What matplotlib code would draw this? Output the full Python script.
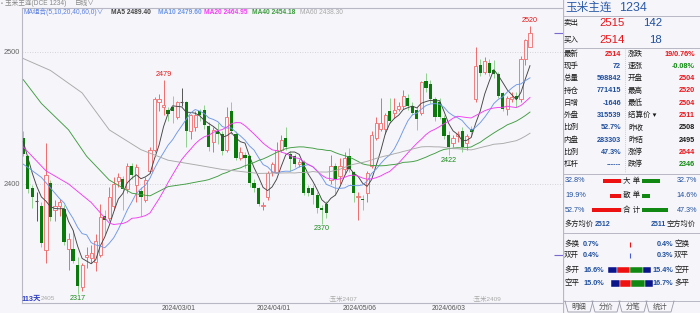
import numpy as np
import pandas as pd
import matplotlib
matplotlib.use("Agg")
import matplotlib.pyplot as plt

plt.rcParams['font.family'] = ['Liberation Sans', 'Noto Sans CJK SC', 'DejaVu Sans']

W, H = 700, 313

# 日K线 (113 根) 开/高/低/收
opens = [2435, 2421, 2397, 2387, 2383, 2350, 2401, 2380, 2383, 2381,
         2351, 2351, 2339, 2322, 2345, 2344, 2341, 2346, 2376, 2374,
         2383, 2402, 2404, 2396, 2414, 2399, 2395, 2388, 2410, 2426,
         2462, 2458, 2456, 2458, 2451, 2462, 2462, 2440, 2443, 2455,
         2456, 2444, 2432, 2440, 2438, 2426, 2455, 2438, 2420, 2422,
         2421, 2401, 2397, 2383, 2390, 2409, 2409, 2426, 2435, 2423,
         2421, 2415, 2417, 2397, 2397, 2392, 2382, 2385, 2403, 2414,
         2406, 2411, 2421, 2409, 2390, 2389, 2393, 2414, 2435, 2442,
         2442, 2455, 2454, 2457, 2459, 2465, 2459, 2456, 2454, 2478,
         2476, 2464, 2462, 2450, 2437, 2431, 2436, 2440, 2431, 2442,
         2464, 2490, 2485, 2492, 2486, 2483, 2469, 2457, 2464, 2467,
         2464, 2495, 2504]
highs = [2440, 2422, 2399, 2394, 2386, 2431, 2403, 2388, 2389, 2384,
         2363, 2365, 2345, 2340, 2352, 2354, 2362, 2385, 2380, 2398,
         2405, 2408, 2406, 2416, 2416, 2415, 2398, 2405, 2428, 2466,
         2468, 2479, 2458, 2467, 2463, 2473, 2463, 2453, 2455, 2457,
         2460, 2447, 2443, 2446, 2440, 2458, 2462, 2440, 2428, 2424,
         2422, 2404, 2398, 2386, 2410, 2417, 2432, 2437, 2443, 2425,
         2423, 2419, 2418, 2399, 2399, 2394, 2384, 2387, 2422, 2416,
         2420, 2424, 2427, 2410, 2394, 2392, 2410, 2440, 2451, 2465,
         2454, 2465, 2465, 2462, 2471, 2468, 2462, 2458, 2478, 2484,
         2479, 2466, 2465, 2452, 2440, 2437, 2440, 2443, 2438, 2444,
         2504, 2495, 2496, 2495, 2494, 2485, 2470, 2467, 2470, 2470,
         2497, 2510, 2520]
lows = [2421, 2393, 2382, 2372, 2352, 2340, 2372, 2372, 2376, 2354,
        2335, 2340, 2317, 2319, 2336, 2340, 2334, 2345, 2362, 2372,
        2380, 2398, 2380, 2393, 2404, 2386, 2376, 2386, 2408, 2424,
        2455, 2452, 2448, 2446, 2449, 2459, 2428, 2434, 2440, 2448,
        2442, 2425, 2424, 2430, 2422, 2424, 2438, 2418, 2418, 2412,
        2398, 2394, 2383, 2380, 2388, 2406, 2408, 2424, 2426, 2410,
        2413, 2413, 2392, 2391, 2385, 2378, 2370, 2374, 2400, 2392,
        2400, 2408, 2409, 2386, 2373, 2380, 2386, 2412, 2433, 2440,
        2438, 2446, 2450, 2455, 2457, 2456, 2452, 2441, 2452, 2470,
        2461, 2448, 2449, 2434, 2422, 2428, 2432, 2424, 2426, 2436,
        2462, 2482, 2483, 2482, 2480, 2465, 2455, 2452, 2462, 2458,
        2462, 2490, 2504]
closes = [2423, 2396, 2390, 2387, 2355, 2407, 2375, 2383, 2386, 2356,
          2358, 2342, 2323, 2339, 2346, 2348, 2357, 2375, 2373, 2390,
          2400, 2405, 2396, 2414, 2407, 2413, 2390, 2403, 2426, 2464,
          2464, 2460, 2453, 2455, 2462, 2462, 2440, 2452, 2452, 2452,
          2445, 2428, 2441, 2438, 2425, 2451, 2440, 2420, 2424, 2420,
          2401, 2397, 2385, 2384, 2408, 2415, 2426, 2433, 2428, 2419,
          2415, 2417, 2393, 2393, 2392, 2382, 2380, 2378, 2414, 2404,
          2414, 2420, 2411, 2393, 2391, 2388, 2408, 2437, 2446, 2446,
          2452, 2448, 2456, 2459, 2467, 2459, 2454, 2449, 2477, 2473,
          2464, 2451, 2451, 2436, 2428, 2435, 2438, 2428, 2436, 2439,
          2489, 2484, 2493, 2484, 2483, 2467, 2457, 2465, 2466, 2464,
          2495, 2509, 2514]

# 均线在窗口之前的部分 (图上读出)
ma5_head_idx = [0, 1, 2, 3]
ma5_head = [2432, 2420, 2408, 2398]
ma10_head_idx = [0, 4, 8]
ma10_head = [2415, 2405, 2389]
ma20_head_idx = [0, 5, 10, 15]
ma20_head = [2428, 2410, 2400, 2386]
ma40_head_idx = [0, 4, 10, 14, 19, 24, 28, 32, 36]
ma40_head = [2479, 2461, 2441, 2421, 2403, 2393, 2391, 2398, 2400]
ma60_head_idx = [0, 6, 13, 19, 26, 32, 39, 44, 52]
ma60_head = [2495, 2486, 2469, 2441, 2426, 2418, 2414, 2411, 2408]

ma_names = ['MA5', 'MA10', 'MA20', 'MA40', 'MA60']
ma_periods = [5, 10, 20, 40, 60]
ma_last = ['2489.40', '2479.60', '2464.95', '2454.18', '2438.30']

date_labels = ['2024/03/01', '2024/04/01', '2024/05/06', '2024/06/03']
date_pos = [34.3, 55.3, 74.3, 94.0]

peak_idx = [31, 112]
trough_idx = [12, 66, 94]

BG = '#f5f5fa'
UP = '#f06a6a'
DN = '#0a7a0a'
DN_WICK = '#8fd08f'
MA_COLORS = ['#444444', '#6e98e8', '#f33cf3', '#3f9c3f', '#a9a9a9']

fig = plt.figure(figsize=(W / 100, H / 100), dpi=100, facecolor=BG)


def fx(px):
    return px / W


def fy(py):
    return 1 - py / H


# ---- 主图 ----
ax = fig.add_axes([fx(22), fy(303), (563 - 22) / W, (303 - 8) / H])
ax.set_facecolor(BG)
ax.set_xlim(-0.29, 119.3)
ax.set_ylim(2309.85, 2533.3)

x = np.arange(len(closes))
o = np.array(opens, float)
c = np.array(closes, float)
h = np.array(highs, float)
l = np.array(lows, float)
up = c > o
dn = c < o
eq = c == o

# 阳线 空心
ax.vlines(x[up], c[up], h[up], color=UP, lw=0.7, zorder=2)
ax.vlines(x[up], l[up], o[up], color=UP, lw=0.7, zorder=2)
ax.bar(x[up], (c - o)[up], bottom=o[up], width=0.7, facecolor=BG,
       edgecolor=UP, lw=0.6, zorder=2)
# 阴线 实心
ax.vlines(x[dn], l[dn], h[dn], color=DN_WICK, lw=0.7, zorder=2)
ax.bar(x[dn], (c - o)[dn], bottom=o[dn], width=0.7, color=DN, lw=0, zorder=2)
# 十字星
ax.vlines(x[eq], l[eq], h[eq], color='#555555', lw=0.7, zorder=2)
ax.hlines(c[eq], x[eq] - 0.35, x[eq] + 0.35, color='#555555', lw=0.8, zorder=2)

# 均线
close_s = pd.Series(c)
heads = [(ma5_head_idx, ma5_head), (ma10_head_idx, ma10_head),
         (ma20_head_idx, ma20_head), (ma40_head_idx, ma40_head),
         (ma60_head_idx, ma60_head)]
for n, (hi, hv), col in zip(ma_periods, heads, MA_COLORS):
    m = close_s.rolling(n).mean()
    xs = list(hi) + list(range(n - 1, len(c)))
    ys = list(hv) + list(m.iloc[n - 1:])
    ax.plot(xs, ys, color=col, lw=0.65, zorder=3)

# 高低点标注
for i in peak_idx:
    ax.annotate(str(highs[i]), (i, highs[i]), xytext=(0, 3.8), textcoords='offset points',
                ha='center', va='center', fontsize=5.2, color='#e01818')
for i in trough_idx:
    ax.annotate(str(lows[i]), (i, lows[i]), xytext=(0, -3.8), textcoords='offset points',
                ha='center', va='center', fontsize=5.2, color='#1a8a1a')

# 网格 / 坐标
for v in (2400, 2500):
    ax.axhline(v, color='#c8c8d0', lw=0.6, ls=(0, (1, 2)), zorder=1)
ax.set_yticks([2400, 2500])
ax.set_yticklabels(['2400', '2500'], fontsize=5.3, color='#666666')
ax.set_xticks(date_pos)
ax.set_xticklabels(date_labels, fontsize=4.9, color='#555555')
ax.tick_params(length=0, pad=1.5)
for s in ('left', 'bottom', 'top'):
    ax.spines[s].set_color('#b8b8c4')
    ax.spines[s].set_linewidth(0.8)
ax.spines['right'].set_visible(False)

# 右侧价位标记
ax.hlines([2514, 2346], 117.3, 119.3, color='#7a6ad0', lw=0.8)

# 顶部标题与均线图例
fig.text(fx(1), fy(3), '▫', fontsize=4, color='#777777', va='center')
fig.text(fx(5), fy(3), '玉米主连(DCE 1234)', fontsize=4.8, color='#888888', va='center')
fig.text(fx(75), fy(3), '日线∨', fontsize=4.8, color='#888888', va='center')
fig.text(fx(24), fy(12), 'MA组合(5,10,20,40,60,0)∨', fontsize=4.8, color='#5a7fe0', va='center')
leg_x = [111, 158, 204, 252, 300]
for xx, name, val, col in zip(leg_x, ma_names, ma_last, MA_COLORS):
    fig.text(fx(xx), fy(12), f'{name} {val}', fontsize=4.8, color=col, va='center',
             fontweight='bold' if name != 'MA60' else 'normal')

# 底部合约切换标记
fig.text(fx(22), fy(299), '113天', fontsize=5.3, color='#2f3fc0', va='center', fontweight='bold')
fig.text(fx(41), fy(299), '2405', fontsize=4.6, color='#aaaaaa', va='center')
fig.text(fx(328), fy(299), ':玉米2407', fontsize=4.6, color='#aaaaaa', va='center')
fig.text(fx(472), fy(299), ':玉米2409', fontsize=4.6, color='#aaaaaa', va='center')

# ---- 右侧报价面板 ----
pax = fig.add_axes([fx(563), 0, 137 / W, 1])
pax.set_xlim(563, 700)
pax.set_ylim(313, 0)
pax.axis('off')

RED = '#e8141a'
BLUE = '#1f4e9c'
GREEN = '#138a13'
BLACK = '#1a1a1a'
LINE = '#b8b8c4'

pax.axvline(563.4, color=LINE, lw=0.9)
pax.text(565, 8, '玉米主连', fontsize=8.4, color='#2a5aa8', va='center')
pax.text(619, 8, '1234', fontsize=9, color='#2a5aa8', va='center')

for yy in (16, 48, 173.5, 232.5, 301):
    pax.hlines(yy, 563, 700, color=LINE, lw=0.7)

pax.text(563.5, 23.5, '卖出', fontsize=5.4, color=BLACK, va='center')
pax.text(599, 23.5, '2515', fontsize=8.2, color=RED, va='center')
pax.text(662, 23.5, '142', fontsize=8.2, color=BLUE, va='center', ha='right')
pax.text(563.5, 40, '买入', fontsize=5.4, color=BLACK, va='center')
pax.text(599, 40, '2514', fontsize=8.2, color=RED, va='center')
pax.text(662, 40, '18', fontsize=8.2, color=BLUE, va='center', ha='right')

left_labels = ['最新', '现手', '总量', '持仓', '日增', '外盘', '比例', '内盘', '比例', '杠杆']
left_values = ['2514', '72', '598842', '771415', '-1646', '315539', '52.7%', '283303', '47.3%', '------']
right_labels = ['涨跌', '速涨', '开盘', '最高', '最低', '结算价', '昨收', '昨结', '涨停', '跌停']
right_values = ['19/0.76%', '-0.08%', '2504', '2520', '2504', '2511', '2508', '2495', '2644', '2346']
left_colors = [RED] + [BLUE] * 9
right_colors = [RED, GREEN, RED, RED, RED, RED, BLACK, BLACK, RED, GREEN]

for k in range(len(left_labels)):
    yy = 54 + 12.3 * k
    pax.text(563.5, yy, left_labels[k], fontsize=5.4, color=BLACK, va='center')
    pax.text(621, yy, left_values[k], fontsize=5.2, color=left_colors[k], va='center',
             ha='right', fontweight='bold')
    lab = right_labels[k] + (' ▾' if right_labels[k] == '结算价' else '')
    pax.text(628, yy, lab, fontsize=5.4, color=BLACK, va='center')
    pax.text(695, yy, right_values[k], fontsize=5.2, color=right_colors[k], va='center',
             ha='right', fontweight='bold')
pax.vlines(625, 48, 172, color='#c0c0c8', lw=0.6, ls=(0, (1, 1.5)))

# 大单/散单/合计
order_labels = ['大 单', '散 单', '合 计']
buy_pct = [32.8, 19.9, 52.7]
sell_pct = [32.7, 14.6, 47.3]
for k in range(3):
    yy = 181 + 14.5 * k
    pax.text(565, yy, f'{buy_pct[k]}%', fontsize=5.2, color=BLUE, va='center')
    pax.barh(yy, buy_pct[k] * 0.545, left=621 - buy_pct[k] * 0.545, height=4,
             color='#ee1111')
    pax.text(631.5, yy, order_labels[k], fontsize=5.4, color=BLACK, va='center', ha='center')
    pax.barh(yy, sell_pct[k] * 0.545, left=642, height=4, color='#118811')
    pax.text(697, yy, f'{sell_pct[k]}%', fontsize=5.2, color=BLUE, va='center', ha='right')

pax.text(564, 224, '多方均价', fontsize=5.2, color=BLACK, va='center')
pax.text(594.5, 224, '2512', fontsize=5.0, color=BLUE, va='center', fontweight='bold')
pax.text(666, 224, '2511', fontsize=5.0, color=BLUE, va='center', ha='right', fontweight='bold')
pax.text(666.5, 224, '空方均价', fontsize=5.2, color=BLACK, va='center')

# 开平仓统计
flow_left = ['多换', '双开', '多开', '空平']
flow_lpct = ['0.7%', '0.4%', '16.6%', '15.0%']
flow_right = ['空换', '双平', '空开', '多平']
flow_rpct = ['0.4%', '0.3%', '15.4%', '16.7%']
flow_y = [244, 255.5, 270, 283.5]
for k in range(4):
    yy = flow_y[k]
    pax.text(564, yy, flow_left[k], fontsize=5.4, color=BLACK, va='center')
    pax.text(583, yy, flow_lpct[k], fontsize=5.2, color=BLUE, va='center', fontweight='bold')
    pax.text(673, yy, flow_rpct[k], fontsize=5.2, color=BLUE, va='center', ha='right',
             fontweight='bold')
    pax.text(674, yy, flow_right[k], fontsize=5.4, color=BLACK, va='center')
pax.vlines(630, 241.5, 246.5, color='#ee1111', lw=0.8)
pax.vlines(630, 253, 258, color='#4a5ad0', lw=0.8)
seg_cols = ['#0a168a', '#ee1111', '#118811', '#0a168a']
for yy, edges in ((270, [608.3, 617.3, 630, 643.3, 650.7]),
                  (283.5, [610.7, 620, 630.7, 645, 652.7])):
    for j in range(4):
        pax.barh(yy, edges[j + 1] - edges[j], left=edges[j], height=6.5,
                 color=seg_cols[j], edgecolor='white', lw=0.3)

# 底部标签页
tabs = ['明细', '分价', '分笔', '统计']
tab_x = [579, 606, 633, 660]
for t, tx in zip(tabs, tab_x):
    pax.text(tx, 307.5, t, fontsize=5.3, color='#555555', va='center', ha='center')
    pax.plot([tx - 14, tx - 11, tx + 11, tx + 14], [301, 312, 312, 301],
             color='#9a9aa8', lw=0.6)

fig.savefig('out.png', dpi=100, facecolor=BG)
